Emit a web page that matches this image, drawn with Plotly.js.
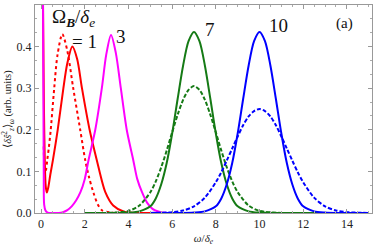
<!DOCTYPE html>
<html>
<head>
<meta charset="utf-8">
<script src="https://cdn.plot.ly/plotly-3.0.1.min.js"></script>
<style>html,body{margin:0;padding:0;background:#fff;}#chart{width:374px;height:246px;}</style>
</head>
<body>
<div id="chart"></div>
<script>
// Omega_B/delta_e = 1 (red)
const xRedSolid = [0.07,0.1,0.13,0.17,0.21,0.26,0.33,0.42,0.54,0.76,1.02,1.2,1.43,1.65,1.87,2.22,2.55,2.94,3.3,3.8,4.5,5];
const yRedSolid = [0.6,0.42,0.25,0.12,0.065,0.049,0.062,0.092,0.127,0.2,0.3,0.36,0.4,0.37,0.3,0.2,0.127,0.05,0.018,0.003,0,0];
const xRedDot = [0.12,0.15,0.19,0.23,0.28,0.36,0.44,0.6,0.75,0.97,1.2,1.47,1.79,2.02,2.2,2.4,2.6,2.8,3.2,3.6];
const yRedDot = [0.16,0.11,0.095,0.105,0.127,0.16,0.2,0.3,0.38,0.43,0.39,0.3,0.2,0.127,0.085,0.048,0.02,0.006,0.001,0];
// Omega_B/delta_e = 3 (magenta)
const xMag = [0.08,0.1,0.12,0.14,0.2,0.3,0.5,0.8,1.0,1.2,1.4,1.6,1.8,2.0,2.17,2.48,2.78,2.98,3.2,3.42,3.65,3.92,4.22,4.4,4.62,4.85,5.1,5.4,5.8,6.5];
const yMag = [0.6,0.35,0.1,0.02,0.006,0.001,0,0,0.002,0.007,0.016,0.03,0.05,0.082,0.127,0.2,0.3,0.38,0.428,0.385,0.3,0.2,0.127,0.082,0.05,0.025,0.01,0.003,0,0];
// Omega_B/delta_e = 7 (green)
const xGreen = [2,3,4,4.5,5,5.25,5.5,5.75,6,6.25,6.5,6.75,7,7.25,7.5,7.75,8,8.25,8.5,8.75,9,9.5,10,11,12,13,14,15];
const yGreenSolid = [0,0,0.001,0.004,0.016,0.035,0.069,0.12,0.191,0.274,0.354,0.413,0.435,0.413,0.354,0.274,0.191,0.12,0.069,0.035,0.016,0.004,0.001,0,0,0,0,0];
const yGreenDash = [0,0.0002,0.005,0.018,0.05,0.076,0.11,0.15,0.194,0.236,0.272,0.296,0.305,0.296,0.272,0.236,0.194,0.15,0.11,0.076,0.05,0.018,0.005,0.0002,0,0,0,0];
// Omega_B/delta_e = 10 (blue)
const xBlue = [5,6,6.5,7,7.5,8,8.25,8.5,8.75,9,9.25,9.5,9.75,10,10.25,10.5,10.75,11,11.25,11.5,11.75,12,12.5,13,13.5,14,15];
const yBlueSolid = [0,0,0,0.001,0.004,0.016,0.035,0.069,0.12,0.191,0.274,0.354,0.413,0.435,0.413,0.354,0.274,0.191,0.12,0.069,0.035,0.016,0.004,0.001,0,0,0];
const yBlueDash = [0.0001,0.002,0.006,0.016,0.037,0.074,0.098,0.126,0.155,0.184,0.211,0.232,0.245,0.25,0.245,0.232,0.211,0.184,0.155,0.126,0.098,0.074,0.037,0.016,0.006,0.002,0.0001];

const xTicks = [0,2,4,6,8,10,12,14];
const yTicks = [0,0.1,0.2,0.3,0.4,0.5];
const yTickLabels = ['0.0','0.1','0.2','0.3','0.4','0.5'];

const RED = '#ff0000', MAG = '#ff00ff', GREEN = '#157a15', BLUE = '#0000ff';
function tr(x, y, color, dash) {
  return {x: x, y: y, type: 'scatter', mode: 'lines',
    line: {color: color, width: 2, dash: dash, shape: 'spline', smoothing: 0.8},
    hoverinfo: 'skip', showlegend: false};
}
const data = [
  tr(xRedDot, yRedDot, RED, 'dot'),
  tr(xRedSolid, yRedSolid, RED, 'solid'),
  tr(xMag, yMag, MAG, 'solid'),
  tr(xGreen, yGreenDash, GREEN, '4px,2px'),
  tr(xGreen, yGreenSolid, GREEN, 'solid'),
  tr(xBlue, yBlueDash, BLUE, '4px,2px'),
  tr(xBlue, yBlueSolid, BLUE, 'solid')
];
const serif = 'Liberation Serif, Times New Roman, serif';
const layout = {
  width: 374, height: 246,
  margin: {l: 35, r: 2, t: 5, b: 33},
  paper_bgcolor: '#fff', plot_bgcolor: '#fff',
  font: {family: serif, color: '#222', size: 12},
  xaxis: {
    range: [-0.28, 15.15], tickvals: xTicks, ticktext: xTicks.map(String),
    showgrid: false, zeroline: false, showline: true, linecolor: '#999', linewidth: 1,
    mirror: 'allticks', ticks: 'inside', ticklen: 4, tickcolor: '#999',
    minor: {dtick: 0.5, tick0: 0, ticks: 'inside', ticklen: 2, tickcolor: '#aaa', showgrid: false},
    tickfont: {family: serif, size: 12, color: '#222'},
    title: {text: '<i>ω</i>/<i>δ</i><sub><i>e</i></sub>', font: {family: serif, size: 11, color: '#222'}, standoff: 6}
  },
  yaxis: {
    range: [0, 0.5], tickvals: yTicks, ticktext: yTickLabels,
    showgrid: false, zeroline: false, showline: true, linecolor: '#999', linewidth: 1,
    mirror: 'allticks', ticks: 'inside', ticklen: 4, tickcolor: '#999',
    minor: {dtick: 0.1/3, tick0: 0, ticks: 'inside', ticklen: 2, tickcolor: '#aaa', showgrid: false},
    tickfont: {family: serif, size: 12, color: '#222'},
    title: {text: '⟨<i>δŝ</i><sup>2</sup><sub><i>z</i></sub>⟩<sub><i>ω</i></sub> (arb. units)', font: {family: serif, size: 10.5, color: '#222'}, standoff: 3}
  },
  annotations: [
    {xref: 'paper', yref: 'paper', x: (73 - 35) / 337, y: (213 - 18) / 208, text: 'Ω<sub><b><i>B</i></b></sub>/<i>δ</i><sub><i>e</i></sub>', showarrow: false, font: {family: serif, size: 19, color: '#111'}, xanchor: 'center', yanchor: 'middle'},
    {xref: 'paper', yref: 'paper', x: (84 - 35) / 337, y: (213 - 41) / 208, text: '= 1', showarrow: false, font: {family: serif, size: 19, color: '#111'}, xanchor: 'center', yanchor: 'middle'},
    {xref: 'paper', yref: 'paper', x: (121 - 35) / 337, y: (213 - 36) / 208, text: '3', showarrow: false, font: {family: serif, size: 19, color: '#111'}, xanchor: 'center', yanchor: 'middle'},
    {xref: 'paper', yref: 'paper', x: (210 - 35) / 337, y: (213 - 29) / 208, text: '7', showarrow: false, font: {family: serif, size: 19, color: '#111'}, xanchor: 'center', yanchor: 'middle'},
    {xref: 'paper', yref: 'paper', x: (278 - 35) / 337, y: (213 - 26) / 208, text: '10', showarrow: false, font: {family: serif, size: 19, color: '#111'}, xanchor: 'center', yanchor: 'middle'},
    {xref: 'paper', yref: 'paper', x: (344 - 35) / 337, y: (213 - 23) / 208, text: '(a)', showarrow: false, font: {family: serif, size: 15, color: '#111'}, xanchor: 'center', yanchor: 'middle'}
  ]
};
Plotly.newPlot('chart', data, layout, {staticPlot: true, displayModeBar: false});
</script>
</body>
</html>
